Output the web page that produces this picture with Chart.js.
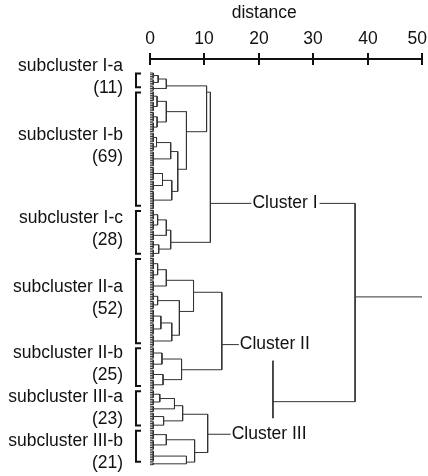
<!DOCTYPE html>
<html>
<head>
<meta charset="utf-8">
<script src="https://cdn.jsdelivr.net/npm/chart.js@4.4.1/dist/chart.umd.min.js"></script>
<style>
  html, body { margin: 0; padding: 0; background: #fff; }
  #wrap { width: 428px; height: 476px; }
</style>
</head>
<body>
<div id="wrap"><canvas id="dendro"></canvas></div>
<script>
// Subclusters, top to bottom
const subclusterNames = ['subcluster I-a', 'subcluster I-b', 'subcluster I-c', 'subcluster II-a',
                         'subcluster II-b', 'subcluster III-a', 'subcluster III-b'];
const subclusterSizes = [11, 69, 28, 52, 25, 23, 21];

// Shape inside each subcluster: (a,b)h joins a and b at distance h,
// a plain number is a run of that many leaves
const subclusterTrees = [
    '((4,4)1.5,3)3',
    '(((6,6)1.3,(6,6)1.3)3,(((6,5)1.2,9)3.8,((8,6)2.3,11)4)5.1)6.7',
    '(((6,6)1.4,6)3,(5,5)1.6)3.8',
    '(((7,6)1.4,7)3,((5,5)1.4,((8,7)2,7)4)5.4)8',
    '((7,6)2.2,(6,6)2.4)5.8',
    '(((5,4)1.8,4)4.5,(5,5)2.5)6',
    '((6,6)3,(7,2)6.7)8.2'
];
// How the subclusters join (numbers are subcluster indexes)
const topTree = '(((0,1)10.4,2)11.1,((3,4)13.2,(5,6)10.6)22.6)37.7';

const clusterNames = ['Cluster I', 'Cluster II', 'Cluster III'];
const clusterMembers = [[0, 1, 2], [3, 4], [5, 6]];

const leafHeight = 0.6;     // distance where single leaves meet inside a run
const distanceMax = 50;
const distanceStep = 10;
const axisTitle = 'distance';

const ink = '#111';
const lineInk = '#333';
const fontFamily = '"Liberation Sans", Arial, Helvetica, sans-serif';
const fontSize = 17.5;

// ---- tree parsing / layout ----
function parseTree(str) {
    let i = 0;
    const num = () => {
        const m = /^[0-9.]+/.exec(str.slice(i));
        i += m[0].length;
        return parseFloat(m[0]);
    };
    const node = () => {
        if (str[i] !== '(') return { leaf: num() };
        i++;
        const a = node(); i++;
        const b = node(); i++;
        return { kids: [a, b], h: num() };
    };
    return node();
}

function expand(node) {
    if (node.leaf !== undefined) {
        const sub = parseTree(subclusterTrees[node.leaf]);
        sub.sub = node.leaf;
        return sub;
    }
    node.kids = node.kids.map(expand);
    return node;
}

const segments = [];
function seg(x1, y1, x2, y2) {
    segments.push({ x: x1, y: y1 }, { x: x2, y: y2 }, { x: x2, y: null });
}

let nextLeaf = 0;
const allNodes = [];
const subRanges = [];

function place(node) {
    const start = nextLeaf;
    if (node.kids === undefined) {
        const first = nextLeaf, last = nextLeaf + node.leaf - 1;
        nextLeaf += node.leaf;
        for (let k = first; k <= last; k++) seg(0, k, leafHeight, k);
        if (last > first) seg(leafHeight, first, leafHeight, last);
        node.n = node.leaf;
        node.y = (first + last) / 2;
        node.h = leafHeight;
        node.subs = [];
    } else {
        const [a, b] = node.kids.map(place);
        node.n = a.n + b.n;
        // link sits nearer the smaller branch
        node.y = (a.y * b.n + b.y * a.n) / node.n;
        seg(a.h, a.y, node.h, a.y);
        seg(b.h, b.y, node.h, b.y);
        seg(node.h, a.y, node.h, b.y);
        node.subs = a.subs.concat(b.subs);
    }
    if (node.sub !== undefined) {
        node.subs = [node.sub];
        subRanges[node.sub] = [start, nextLeaf - 1];
    }
    allNodes.push(node);
    return node;
}

const root = place(expand(parseTree(topTree)));
seg(root.h, root.y, distanceMax, root.y);

const clusterNodes = clusterMembers.map(m =>
    allNodes.find(n => n.subs.length === m.length && m.every(k => n.subs.includes(k))));

// ---- extra drawing: axis title and labels, tick halves, cluster labels, brackets ----
const extras = {
    id: 'extras',
    afterDraw(chart) {
        const { ctx, scales: { x, y } } = chart;
        ctx.save();

        ctx.strokeStyle = ink;
        ctx.lineWidth = 2;
        ctx.font = fontSize + 'px ' + fontFamily;
        ctx.textBaseline = 'middle';
        ctx.textAlign = 'center';
        ctx.fillStyle = ink;

        // lower half of the axis ticks, and the tick labels (kept inside the canvas)
        x.ticks.forEach(t => {
            const px = Math.round(x.getPixelForValue(t.value));
            ctx.beginPath();
            ctx.moveTo(px, x.bottom);
            ctx.lineTo(px, x.bottom + 6);
            ctx.stroke();
            const w = ctx.measureText(t.label).width;
            ctx.fillText(t.label, Math.min(px, chart.width - w / 2 - 1), 39);
        });
        ctx.fillText(axisTitle, x.getPixelForValue(21), 13);

        // cluster names sitting on their links
        const gaps = [42, 18, 24];
        clusterNodes.forEach((n, i) => {
            const px = x.getPixelForValue(n.h) + gaps[i];
            const py = y.getPixelForValue(n.y);
            const w = ctx.measureText(clusterNames[i]).width;
            ctx.fillStyle = '#fff';
            ctx.fillRect(px - 1, py - 16, w + 3, 32);
            ctx.fillStyle = ink;
            ctx.textAlign = 'left';
            ctx.fillText(clusterNames[i], px, py);
        });

        // brackets and subcluster names
        let prevMid = -Infinity;
        subRanges.forEach(([first, last], i) => {
            const top = y.getPixelForValue(first) + 0.5;
            const bot = y.getPixelForValue(last) - 3;
            ctx.strokeStyle = ink;
            ctx.lineWidth = 2;
            ctx.beginPath();
            ctx.moveTo(141, top);
            ctx.lineTo(136, top);
            ctx.lineTo(136, bot);
            ctx.lineTo(141, bot);
            ctx.stroke();

            const mid = Math.max((top + bot) / 2 - 3, prevMid + 44);
            prevMid = mid;
            ctx.fillStyle = ink;
            ctx.textAlign = 'right';
            ctx.fillText(subclusterNames[i], 123, mid - 10.75);
            ctx.fillText('(' + subclusterSizes[i] + ')', 123, mid + 11);
        });

        ctx.restore();
    }
};

new Chart(document.getElementById('dendro'), {
    type: 'scatter',
    data: {
        datasets: [{
            data: segments,
            showLine: true,
            spanGaps: false,
            borderColor: lineInk,
            borderWidth: 1,
            pointRadius: 0
        }]
    },
    options: {
        responsive: true,
        maintainAspectRatio: false,
        animation: false,
        layout: { padding: { left: 150, right: 6, top: 0, bottom: 6 } },
        plugins: { legend: { display: false }, tooltip: { enabled: false } },
        scales: {
            x: {
                type: 'linear',
                position: 'top',
                min: 0,
                max: distanceMax,
                ticks: { stepSize: distanceStep, display: false },
                grid: { drawOnChartArea: false, tickLength: 6, color: ink, lineWidth: 2 },
                border: { color: ink, width: 2 },
                afterFit(s) {
                    s.height = 59;
                    s.paddingLeft = 0;
                    s.paddingRight = 0;
                }
            },
            y: { type: 'linear', display: false, reverse: true, min: -8.15, max: 231.1 }
        }
    },
    plugins: [extras]
});
</script>
</body>
</html>
